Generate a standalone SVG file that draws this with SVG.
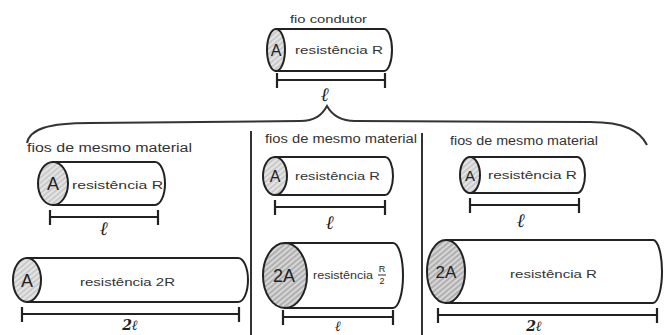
<svg xmlns="http://www.w3.org/2000/svg" width="665" height="335" viewBox="0 0 665 335">
  <defs>
    <pattern id="hatch" patternUnits="userSpaceOnUse" width="4" height="4" patternTransform="rotate(-40)">
      <rect width="4" height="4" fill="#d6d6d6"/>
      <line x1="0" y1="2" x2="4" y2="2" stroke="#8a8a8a" stroke-width="1"/>
    </pattern>
    <pattern id="shade" patternUnits="userSpaceOnUse" width="4" height="4" patternTransform="rotate(-40)">
      <rect width="4" height="4" fill="#e4e4e4"/>
      <line x1="0" y1="2" x2="4" y2="2" stroke="#b0b0b0" stroke-width="1"/>
    </pattern>
  </defs>
  <style>
    .body { fill: #fff; stroke: #222; stroke-width: 2; }
    .end { stroke: #222; stroke-width: 2; }
    .dim { fill: none; stroke: #222; stroke-width: 2.2; }
    .lbl { font-family: "Liberation Sans", Arial, sans-serif; fill: #333; }
    .area { font-family: "Liberation Sans", Arial, sans-serif; fill: #222; text-anchor: middle; }
    .len { font-family: "DejaVu Serif", "Liberation Serif", serif; font-style: italic; font-weight: bold; fill: #222; text-anchor: middle; }
    .rule { fill: none; stroke: #333; stroke-width: 2; }
  </style>
  <rect width="665" height="335" fill="#fff"/>

  <!-- brace and panel dividers -->
  <g id="connectors">
    <path class="rule" d="M27,143 C30,129 48,123 90,123 L300,121 C315,121 322,115 327,106 C332,115 340,121 355,121 L590,122 C625,122 640,131 647,145"/>
    <line class="rule" x1="251" y1="131" x2="251" y2="335"/>
    <line class="rule" x1="422" y1="133" x2="422" y2="335"/>
  </g>

  <!-- top wire -->
  <g id="fio-condutor">
    <text class="lbl" x="290" y="23" font-size="11" textLength="77" lengthAdjust="spacingAndGlyphs">fio condutor</text>
    <path class="body" d="M276,29 L384,29 A8,21 0 0 1 384,71 L276,71 Z"/>
    <ellipse class="end" cx="276" cy="50" rx="9" ry="21" fill="url(#shade)"/>
    <text class="area" x="276" y="56" font-size="16">A</text>
    <text class="lbl" x="295" y="54" font-size="11" textLength="88" lengthAdjust="spacingAndGlyphs">resistência R</text>
    <path class="dim" d="M277,80 H385 M277,73 V88 M385,73 V88"/>
    <text class="len" x="325" y="101" font-size="19">ℓ</text>
  </g>

  <!-- left panel -->
  <g id="left-panel">
    <text class="lbl" x="27" y="152" font-size="12" textLength="165" lengthAdjust="spacingAndGlyphs">fios de mesmo material</text>
  </g>
  <g id="left-wire-1">
    <path class="body" d="M53,162 L155,162 A10,21.5 0 0 1 155,205 L53,205 Z"/>
    <ellipse class="end" cx="53" cy="183.5" rx="15" ry="21.5" fill="url(#shade)"/>
    <text class="area" x="53" y="190" font-size="18">A</text>
    <text class="lbl" x="72" y="189" font-size="11" textLength="91" lengthAdjust="spacingAndGlyphs">resistência R</text>
    <path class="dim" d="M50,217 H158 M50,210 V225 M158,210 V225"/>
    <text class="len" x="104" y="235" font-size="19">ℓ</text>
  </g>
  <g id="left-wire-2">
    <path class="body" d="M27,258 L238,258 A10,22 0 0 1 238,302 L27,302 Z"/>
    <ellipse class="end" cx="27" cy="280" rx="14" ry="22" fill="url(#shade)"/>
    <text class="area" x="27" y="287" font-size="18">A</text>
    <text class="lbl" x="80" y="286" font-size="11" textLength="95" lengthAdjust="spacingAndGlyphs">resistência 2R</text>
    <path class="dim" d="M22,314 H239 M22,307 V322 M239,307 V322"/>
    <text class="len" x="130" y="330" font-size="14">2ℓ</text>
  </g>

  <!-- middle panel -->
  <g id="middle-panel">
    <text class="lbl" x="265" y="143" font-size="12" textLength="152" lengthAdjust="spacingAndGlyphs">fios de mesmo material</text>
  </g>
  <g id="middle-wire-1">
    <path class="body" d="M275,157 L385,157 A8,19 0 0 1 385,195 L275,195 Z"/>
    <ellipse class="end" cx="275" cy="176" rx="12" ry="19" fill="url(#shade)"/>
    <text class="area" x="275" y="182" font-size="16">A</text>
    <text class="lbl" x="295" y="180" font-size="10" textLength="85" lengthAdjust="spacingAndGlyphs">resistência R</text>
    <path class="dim" d="M275,207 H385 M275,200 V215 M385,200 V215"/>
    <text class="len" x="330" y="229" font-size="19">ℓ</text>
  </g>
  <g id="middle-wire-2">
    <path class="body" d="M285,243 L393,243 A10,32.5 0 0 1 393,308 L285,308 Z"/>
    <ellipse class="end" cx="285" cy="275.5" rx="22" ry="32.5" fill="url(#hatch)"/>
    <text class="area" x="284" y="282" font-size="18">2A</text>
    <text class="lbl" x="313" y="279" font-size="10" textLength="60" lengthAdjust="spacingAndGlyphs">resistência</text>
    <text class="area" x="382" y="272" font-size="9">R</text>
    <line x1="378" y1="275" x2="386" y2="275" stroke="#333" stroke-width="1"/>
    <text class="area" x="382" y="284" font-size="9">2</text>
    <path class="dim" d="M283,317 H393 M283,310 V325 M393,310 V325"/>
    <text class="len" x="338" y="331" font-size="14">ℓ</text>
  </g>

  <!-- right panel -->
  <g id="right-panel">
    <text class="lbl" x="450" y="145" font-size="12" textLength="148" lengthAdjust="spacingAndGlyphs">fios de mesmo material</text>
  </g>
  <g id="right-wire-1">
    <path class="body" d="M470,157 L577,157 A8,18 0 0 1 577,193 L470,193 Z"/>
    <ellipse class="end" cx="470" cy="175" rx="10" ry="18" fill="url(#shade)"/>
    <text class="area" x="470" y="181" font-size="15">A</text>
    <text class="lbl" x="488" y="179" font-size="10" textLength="89" lengthAdjust="spacingAndGlyphs">resistência R</text>
    <path class="dim" d="M470,205 H579 M470,198 V213 M579,198 V213"/>
    <text class="len" x="521" y="227" font-size="19">ℓ</text>
  </g>
  <g id="right-wire-2">
    <path class="body" d="M446,240 L653,240 A9,31.5 0 0 1 653,303 L446,303 Z"/>
    <ellipse class="end" cx="446" cy="271.5" rx="19" ry="31.5" fill="url(#hatch)"/>
    <text class="area" x="446" y="278" font-size="17">2A</text>
    <text class="lbl" x="510" y="278" font-size="10" textLength="87" lengthAdjust="spacingAndGlyphs">resistência R</text>
    <path class="dim" d="M438,315 H657 M438,308 V323 M657,308 V323"/>
    <text class="len" x="534" y="331" font-size="14">2ℓ</text>
  </g>
</svg>
